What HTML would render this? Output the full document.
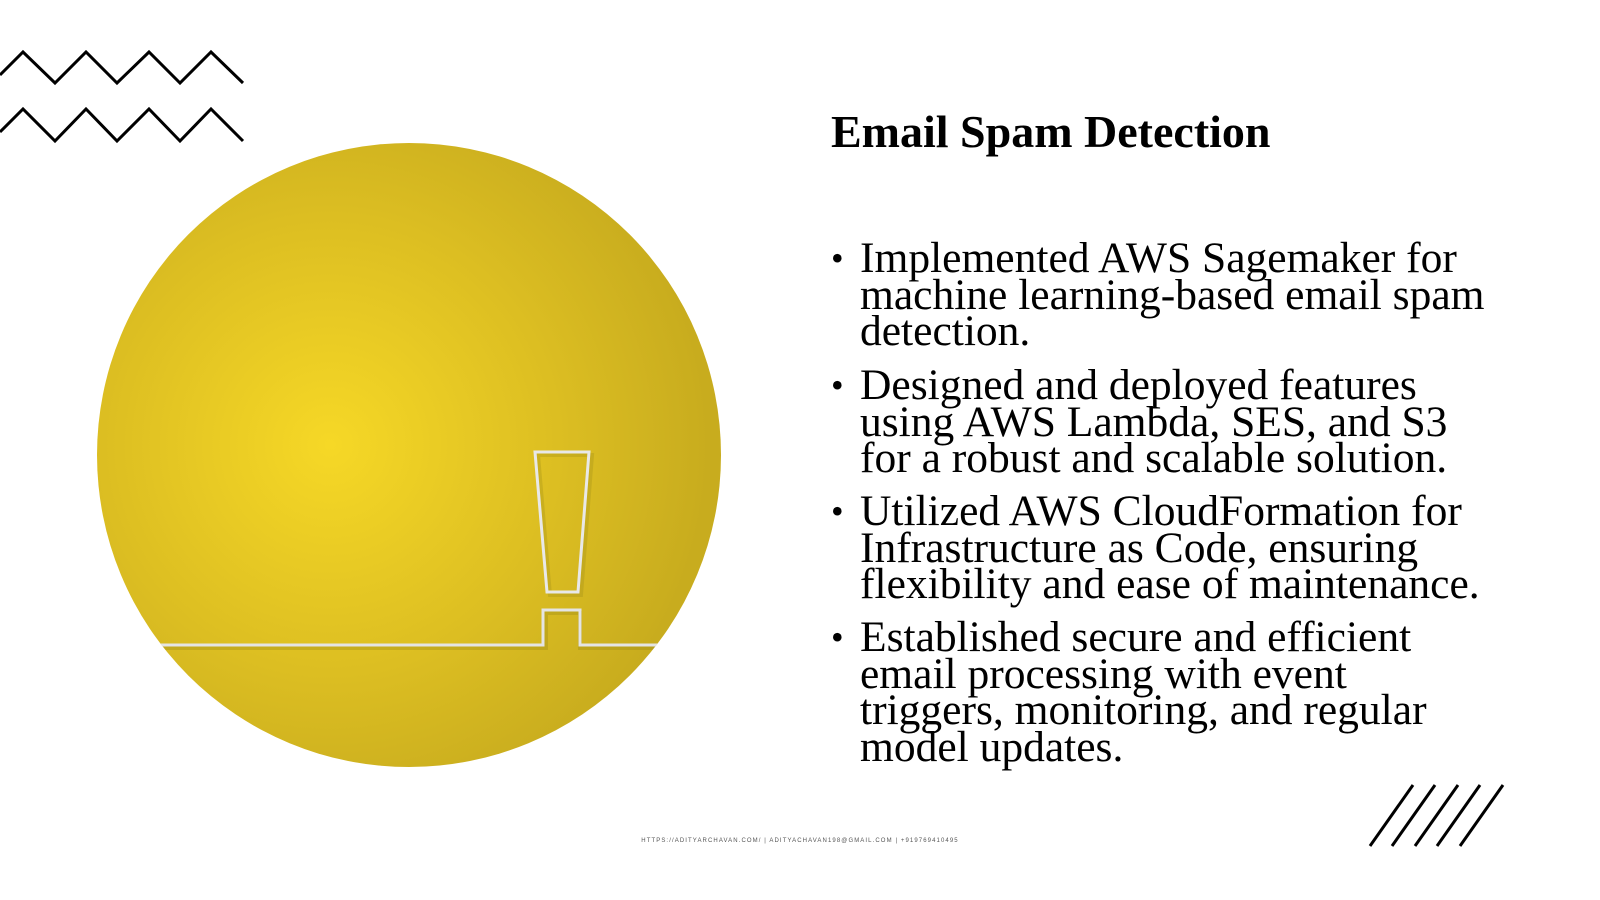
<!DOCTYPE html>
<html><head><meta charset="utf-8"><style>
html,body{margin:0;padding:0;background:#fff;}
body{width:1600px;height:900px;position:relative;overflow:hidden;font-family:"Liberation Serif",serif;color:#000;}
h1{position:absolute;left:831px;top:104px;margin:0;font-size:46px;font-weight:bold;line-height:56px;}
.b{position:absolute;left:860px;width:700px;font-size:43.5px;line-height:36.7px;}
.b:before{content:"•";position:absolute;left:-29px;font-size:36px;}
.f{position:absolute;left:0;width:1600px;top:838px;text-align:center;font-family:"Liberation Sans",sans-serif;font-size:6px;letter-spacing:1.1px;color:#555;}
</style></head><body>
<svg width="1600" height="900" style="position:absolute;left:0;top:0">
<defs>
<radialGradient id="g" cx="330" cy="445" r="380" gradientUnits="userSpaceOnUse">
<stop offset="0" stop-color="#f6d826"/><stop offset="0.6" stop-color="#dcbe22"/><stop offset="1" stop-color="#c8ac1e"/>
</radialGradient>
<clipPath id="c"><circle cx="409" cy="455" r="312"/></clipPath>
</defs>
<circle cx="409" cy="455" r="312" fill="url(#g)"/>
<g clip-path="url(#c)" fill="none" stroke-linejoin="miter">
<path d="M90 648 L546 648 L546 613 L580 613 L580 648 L700 648" stroke="#9c8a18" stroke-width="4" opacity="0.35"/>
<path d="M90 645 L543 645 L543 610 L580 610 L580 645 L700 645" stroke="#e4e4e4" stroke-width="3"/>
<path d="M538 455 L592 455 L581 595 L550 595 Z" stroke="#9c8a18" stroke-width="4" opacity="0.3"/>
<path d="M535 452 L589 452 L578 592 L547 592 Z" stroke="#e8e8e8" stroke-width="3"/>
</g>
<g fill="none" stroke="#000" stroke-width="3">
<polyline points="0,75 23,52 55,83 86,52 117,83 149,52 180,83 211,52 243,83"/>
<polyline points="0,132 23,109 55,141 86,109 117,141 149,109 180,141 211,109 243,141"/>
<line x1="1370" y1="846" x2="1413" y2="785"/>
<line x1="1392" y1="846" x2="1435" y2="785"/>
<line x1="1415" y1="846" x2="1458" y2="785"/>
<line x1="1437" y1="846" x2="1480" y2="785"/>
<line x1="1460" y1="846" x2="1503" y2="785"/>
</g>
</svg>
<h1>Email Spam Detection</h1>
<div class="b" style="top:240px">Implemented AWS Sagemaker for<br>machine learning-based email spam<br>detection.</div>
<div class="b" style="top:367px">Designed and deployed features<br>using AWS Lambda, SES, and S3<br>for a robust and scalable solution.</div>
<div class="b" style="top:493px">Utilized AWS CloudFormation for<br>Infrastructure as Code, ensuring<br>flexibility and ease of maintenance.</div>
<div class="b" style="top:619px">Established secure and efficient<br>email processing with event<br>triggers, monitoring, and regular<br>model updates.</div>
<div class="f">HTTPS://ADITYARCHAVAN.COM/ | ADITYACHAVAN198@GMAIL.COM | +919769410495</div>
</body></html>
